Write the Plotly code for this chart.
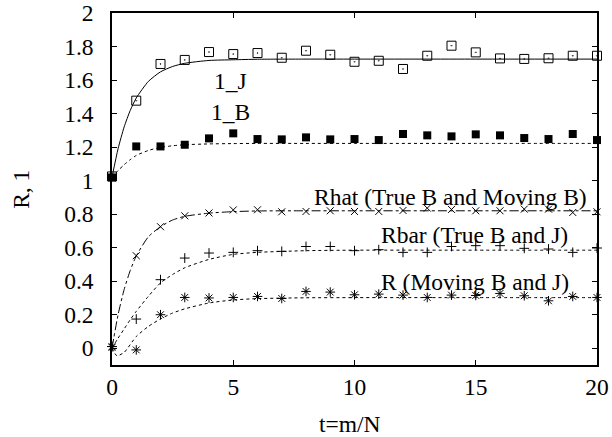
import plotly.graph_objects as go

# ---- data ----
t_pts = list(range(21))
lJ_pts = [1.025, 1.477, 1.696, 1.72, 1.767, 1.755, 1.761, 1.733, 1.775, 1.751,
          1.709, 1.715, 1.666, 1.745, 1.805, 1.765, 1.729, 1.726, 1.73, 1.745, 1.745]
lB_pts = [1.019, 1.204, 1.204, 1.214, 1.252, 1.282, 1.248, 1.246, 1.258, 1.246,
          1.248, 1.242, 1.278, 1.27, 1.264, 1.276, 1.27, 1.254, 1.248, 1.278, 1.242]
Rhat_pts = [0.005, 0.552, 0.725, 0.79, 0.807, 0.825, 0.826, 0.814, 0.816, 0.82,
            0.816, 0.816, 0.822, 0.836, 0.828, 0.82, 0.82, 0.83, 0.83, 0.81, 0.814]
Rbar_pts = [0.01, 0.174, 0.409, 0.538, 0.568, 0.572, 0.582, 0.578, 0.607, 0.607,
            0.582, 0.588, 0.572, 0.572, 0.607, 0.612, 0.612, 0.596, 0.592, 0.572, 0.598]
R_pts = [0.01, -0.01, 0.2, 0.303, 0.3, 0.303, 0.309, 0.297, 0.339, 0.335,
         0.319, 0.323, 0.317, 0.303, 0.317, 0.315, 0.327, 0.313, 0.283, 0.309, 0.303]

# theory curves
t_curve = [0, 0.25, 0.5, 0.75, 1, 1.5, 2, 2.5, 3, 4, 5, 6, 8, 10, 15, 20]
lJ_curve = [1.02, 1.19, 1.32, 1.418, 1.493, 1.592, 1.649, 1.681, 1.70, 1.717,
            1.721, 1.724, 1.725, 1.725, 1.725, 1.725]
lB_curve = [1.02, 1.06, 1.095, 1.125, 1.15, 1.18, 1.198, 1.208, 1.214, 1.219,
            1.221, 1.222, 1.222, 1.222, 1.222, 1.222]
Rhat_curve = [0.0, 0.2, 0.35, 0.463, 0.55, 0.665, 0.725, 0.765, 0.787, 0.806,
              0.815, 0.819, 0.82, 0.82, 0.82, 0.82]
Rbar_curve = [0.0, 0.06, 0.115, 0.17, 0.22, 0.31, 0.39, 0.44, 0.48, 0.53,
              0.56, 0.572, 0.582, 0.585, 0.585, 0.585]
t_curve_R = [0, 0.2, 0.5, 1, 1.5, 2, 2.5, 3, 4, 5, 6, 8, 10, 15, 20]
R_curve = [0.0, -0.045, -0.025, 0.07, 0.13, 0.175, 0.21, 0.235, 0.27, 0.288,
           0.296, 0.301, 0.302, 0.302, 0.302]

labels = [("1_J", 4.9, 1.595), ("1_B", 4.9, 1.41),
          ("Rhat (True B and Moving B)", 13.95, 0.905),
          ("Rbar (True B and J)", 14.95, 0.675),
          ("R (Moving B and J)", 14.95, 0.393)]

FONT = "Liberation Serif"
FS = 23.5
fig = go.Figure()

def curve(x, y, dash):
    fig.add_trace(go.Scatter(x=x, y=y, mode="lines", line=dict(color="black", width=1, dash=dash,
                             shape="spline", smoothing=0.6), hoverinfo="skip"))

def pts(y, symbol, size, lw=1):
    fig.add_trace(go.Scatter(x=t_pts, y=y, mode="markers", cliponaxis=False,
                             marker=dict(symbol=symbol, size=size, color="black",
                                         line=dict(color="black", width=lw))))

curve(t_curve, lJ_curve, "solid")
curve(t_curve, lB_curve, "dot")
curve(t_curve, Rhat_curve, "dashdot")
curve(t_curve, Rbar_curve, "dot")
curve(t_curve_R, R_curve, "dot")

pts(lJ_pts, "square-open-dot", 9)
pts(lB_pts, "square", 8, 0)
pts(Rhat_pts, "x-thin-open", 7)
pts(Rbar_pts, "cross-thin-open", 7)
pts(R_pts, "asterisk-open", 8)

for txt, x, y in labels:
    fig.add_annotation(x=x, y=y, text=txt, showarrow=False,
                       font=dict(family=FONT, size=FS, color="black"))

# axis titles
fig.add_annotation(xref="paper", yref="paper", x=0.49, y=-0.168, text="t=m/N",
                   showarrow=False, yanchor="middle",
                   font=dict(family=FONT, size=FS, color="black"))
fig.add_annotation(xref="paper", yref="paper", x=-0.188, y=0.5, text="R, 1",
                   showarrow=False, textangle=-90, xanchor="center",
                   font=dict(family=FONT, size=FS, color="black"))

axis_common = dict(showline=True, linecolor="black", linewidth=1.5, mirror="ticks",
                   ticks="inside", ticklen=5, tickcolor="black", showgrid=False,
                   zeroline=False, automargin=False,
                   tickfont=dict(family=FONT, size=FS, color="black"))

fig.update_xaxes(range=[0, 20], tickvals=[0, 5, 10, 15, 20], ticklabelstandoff=0,
                 **axis_common)
fig.update_yaxes(range=[-0.1, 2], tickvals=[0, 0.2, 0.4, 0.6, 0.8, 1, 1.2, 1.4, 1.6, 1.8, 2],
                 ticktext=["0", "0.2", "0.4", "0.6", "0.8", "1", "1.2", "1.4", "1.6", "1.8", "2"],
                 ticklabelstandoff=12,
                 **axis_common)

fig.update_layout(width=612, height=437, showlegend=False,
                  paper_bgcolor="white", plot_bgcolor="white",
                  margin=dict(l=112, r=15, t=13, b=72))

fig.write_html("out.html", config={"displayModeBar": False},
               post_script="document.body.style.margin='0px';")
